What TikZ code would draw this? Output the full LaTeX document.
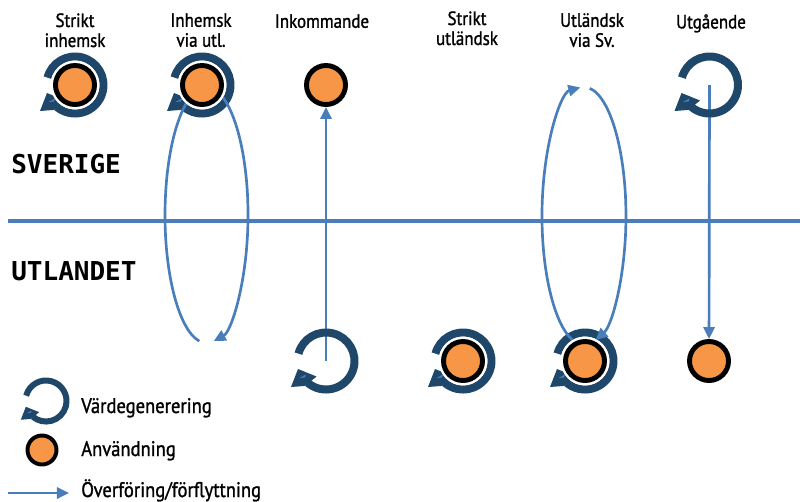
\documentclass[tikz,border=0pt]{standalone}
\usepackage{fontspec}
\setmainfont{PT Sans}[FakeStretch=0.88,FakeBold=1.2]
\newfontfamily\landfont{DejaVu Sans Mono}
\usetikzlibrary{arrows.meta,positioning,backgrounds}

\definecolor{ringblue}{RGB}{31,71,106}
\definecolor{flowblue}{RGB}{74,126,187}
\definecolor{useorange}{RGB}{247,150,70}

\tikzset{
  ringw/.store in=\ringw, ringw=0.2cm,
  flow/.style={flowblue, line width=1.9pt,
    -{Triangle[width=0.28cm,length=0.3cm]}},
  divide/.style={flowblue, line width=2.6pt},
  use/.style={circle, draw=black, fill=useorange, line width=3.5pt,
    minimum size=0.975cm, inner sep=0pt},
  halo/.style={preaction={draw=white, line width=7pt}},
  head/.style={anchor=north, align=center, inner sep=0pt,
    font=\fontsize{13.7}{14.2}\selectfont},
  land/.style={anchor=base west, inner sep=0pt,
    font=\landfont\bfseries\fontsize{18.5}{20}\selectfont},
  legend/.style={anchor=base west, inner sep=0pt,
    font=\fontsize{15}{16}\selectfont},
  pics/genring/.style={code={
    \draw[ringblue, line width=\ringw] (165:28.5) arc[start angle=165, end angle=-130, radius=28.5];
    \fill[ringblue] (-35,-26) -- (-28,-8) -- (-9.5,-15.5) -- (-20.9,-24.9) -- cycle;
    \fill[flowblue] (-26.5,-17) -- (-20,-13.5) -- (-21,-16.5) -- cycle;
    \coordinate (-c) at (0,0);
  }}
}

\begin{document}
\begin{tikzpicture}[x=0.025cm, y=0.025cm]
  \useasboundingbox (0,0) rectangle (800,-501);
  \node[head] (siHead) at (75,-13) {Strikt\\inhemsk};
  \node[head] (ivHead) at (201,-13) {Inhemsk\\via utl.};
  \node[head] (inHead) at (322,-14) {Inkommande};
  \node[head] (suHead) at (467,-11) {Strikt\\utländsk};
  \node[head] (uvHead) at (592,-13) {Utländsk\\via Sv.};
  \node[head] (utHead) at (711,-14) {Utgående};
  \node[land] (seLand) at (11,-173) {SVERIGE};
  \node[land] (abLand) at (11,-280) {UTLANDET};
  \coordinate (lineL) at (8,-221);
  \coordinate (lineR) at (800,-221);

  \pic (siCyc) at (75,-85) {genring};
  \pic (ivCyc) at (202,-85) {genring};
  \pic (utCyc) at (709.5,-85) {genring};
  \pic (inCyc) at (326,-361) {genring};
  \pic (suCyc) at (463,-361) {genring};
  \pic (uvCyc) at (585,-361) {genring};

  \coordinate (ivLoop) at (199.3,-341.1);
  \draw[flow] (ivLoop) arc[start angle=-100, end angle=-440, x radius=41.5, y radius=128];
  \coordinate (uvLoopUp) at (576.7,-343);
  \draw[flow] (uvLoopUp) arc[start angle=-100, end angle=-265, x radius=42, y radius=129];
  \coordinate (uvLoopDown) at (589.8,-88.3);
  \draw[flow] (uvLoopDown) arc[start angle=82, end angle=-74, x radius=42, y radius=129];

  \node[use, halo] (siUse) at (siCyc-c) {};
  \node[use, halo] (ivUse) at (ivCyc-c) {};
  \node[use, halo] (suUse) at (suCyc-c) {};
  \node[use, halo] (uvUse) at (uvCyc-c) {};
  \node[use] (inUse) at (326,-85) {};
  \node[use] (utUse) at (709,-361) {};

  \begin{pgfonlayer}{background}
    \draw[divide] (lineL) -- (lineR);
    \draw[flow] (inCyc-c) -- (inUse);
    \draw[flow] (utCyc-c) -- (utUse);
  \end{pgfonlayer}

  \pic[scale=0.72, ringw=0.15cm] (legCyc) at (46,-401) {genring};
  \node[use, minimum size=0.725cm, line width=2.8pt] (legUse) at (42,-450) {};
  \coordinate (legFrom) at (8,-493);
  \coordinate (legTo) at (69,-493);
  \draw[flow] (legFrom) -- (legTo);
  \node[legend] (legCycTxt) at (81,-413) {Värdegenerering};
  \node[legend] (legUseTxt) at (81,-456) {Användning};
  \node[legend] (legFlowTxt) at (81,-497) {Överföring/förflyttning};
\end{tikzpicture}
\end{document}
